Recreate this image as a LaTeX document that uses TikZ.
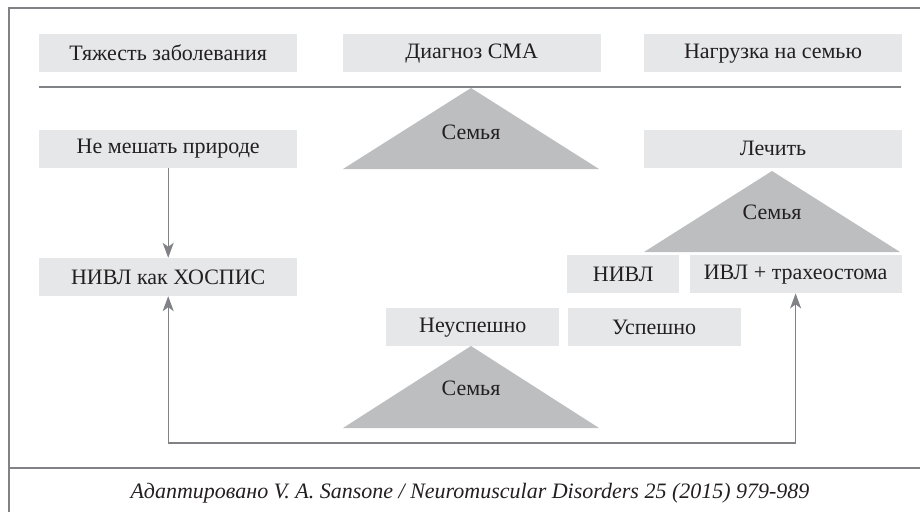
\documentclass[tikz,border=0pt]{standalone}
\usepackage{fontspec}
\setmainfont{Liberation Serif}
\usetikzlibrary{arrows.meta, positioning}
\definecolor{boxgray}{HTML}{E6E7E8}
\definecolor{trigray}{HTML}{BCBEC0}
\definecolor{linegray}{HTML}{808285}
\definecolor{textgray}{HTML}{231F20}

\begin{document}
\begin{tikzpicture}[x=1pt, y=-1pt, node distance=45pt and 45pt,
    every node/.style={font=\fontsize{22}{26}\selectfont, text=textgray},
    box/.style={fill=boxgray, minimum width=258pt, minimum height=38pt, inner sep=0pt, anchor=north west},
    frame/.style={draw=linegray, line width=1.3pt},
    arr/.style={draw=linegray, line width=1.4pt, -{Stealth[length=15pt, width=11pt, inset=4pt]}}]
    \useasboundingbox (0,0) rectangle (920,512);
    % frame
    \draw[frame] (920,8) -- (9,8) -- (9,512);
    \draw[frame] (9,468) -- (920,468);
    \draw[frame] (39,87) -- (901,87);
    % top row
    \node[box] (severity) at (39,34) {Тяжесть заболевания};
    \node[box, right=45pt of severity] (diagnosis) {Диагноз СМА};
    \node[box, right=43pt of diagnosis] (burden) {Нагрузка на семью};
    % decisions
    \node[box, below=57pt of severity] (nature) {Не мешать природе};
    \node[box, below=57pt of burden] (treat) {Лечить};
    \node[box, below=90pt of nature] (hospice) {НИВЛ как ХОСПИС};
    \node[box, minimum width=112pt] (niv) at (567,255) {НИВЛ};
    \node[box, minimum width=212pt, right=10pt of niv] (trach) {ИВЛ + трахеостома};
    \node[box, minimum width=173pt] (fail) at (386,308) {Неуспешно};
    \node[box, minimum width=173pt, right=8pt of fail] (success) {Успешно};
    % families
    \fill[trigray] (471,88) -- (599,169) -- (343,169) -- cycle;
    \node (family1) at (471,132) {Семья};
    \fill[trigray] (772,171) -- (900,252) -- (644,252) -- cycle;
    \node (family2) at (772,212) {Семья};
    \fill[trigray] (471,346) -- (599,428) -- (343,428) -- cycle;
    \node (family3) at (471,388) {Семья};
    % arrows
    \coordinate (loop) at (0,443);
    \draw[arr] (nature) -- (hospice);
    \draw[arr, {Stealth[length=15pt, width=11pt, inset=4pt]}-{Stealth[length=15pt, width=11pt, inset=4pt]}]
        (hospice.south) -- (hospice.south |- loop) -- (trach.south |- loop) -- (trach.south);
    % source
    \node[font=\itshape\fontsize{22}{26}\selectfont] (source) at (470,493) {Адаптировано V. A. Sansone / Neuromuscular Disorders 25 (2015) 979-989};
\end{tikzpicture}
\end{document}
